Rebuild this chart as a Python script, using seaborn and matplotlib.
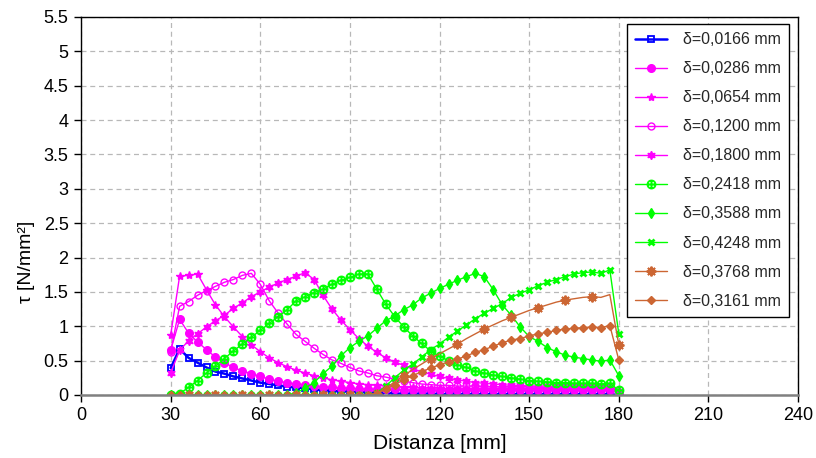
import matplotlib
matplotlib.use("Agg")
import matplotlib.pyplot as plt
import seaborn as sns
from matplotlib.ticker import FuncFormatter

# Distanza [mm] (step 3 mm)
distanza = [30, 33, 36, 39, 42, 45, 48, 51, 54, 57, 60, 63, 66, 69, 72, 75, 78,
            81, 84, 87, 90, 93, 96, 99, 102, 105, 108, 111, 114, 117, 120, 123,
            126, 129, 132, 135, 138, 141, 144, 147, 150, 153, 156, 159, 162, 165,
            168, 171, 174, 177, 180]

# tau [N/mm2] per slip value
tau_0166 = [0.39, 0.67, 0.54, 0.47, 0.40, 0.34, 0.31, 0.27, 0.24, 0.21, 0.18, 0.16,
            0.14, 0.12, 0.11, 0.10, 0.08, 0.07, 0.06, 0.05, 0.05, 0.04, 0.04, 0.03,
            0.03, 0.02, 0.02, 0.02, 0.02, 0.02, 0.01, 0.01, 0.01, 0.01, 0.01, 0.01,
            0.01, 0.01, 0.01, 0.01, 0.01, 0.01, 0.01, 0.01, 0.01, 0.01, 0.01, 0.01,
            0.01, 0.01, 0.00]
tau_0286 = [0.65, 1.10, 0.90, 0.77, 0.66, 0.55, 0.47, 0.40, 0.35, 0.31, 0.27, 0.23,
            0.20, 0.18, 0.16, 0.15, 0.13, 0.12, 0.11, 0.10, 0.10, 0.09, 0.09, 0.08,
            0.08, 0.08, 0.07, 0.07, 0.07, 0.07, 0.07, 0.07, 0.07, 0.07, 0.07, 0.07,
            0.07, 0.07, 0.07, 0.07, 0.07, 0.07, 0.07, 0.07, 0.07, 0.07, 0.07, 0.07,
            0.07, 0.07, 0.03]
tau_0654 = [0.87, 1.73, 1.74, 1.76, 1.53, 1.31, 1.14, 0.99, 0.85, 0.73, 0.63, 0.54,
            0.47, 0.41, 0.36, 0.32, 0.28, 0.25, 0.22, 0.20, 0.18, 0.16, 0.15, 0.14,
            0.13, 0.12, 0.11, 0.11, 0.10, 0.10, 0.10, 0.09, 0.09, 0.09, 0.09, 0.09,
            0.09, 0.09, 0.08, 0.08, 0.08, 0.08, 0.08, 0.08, 0.08, 0.08, 0.08, 0.08,
            0.08, 0.08, 0.04]
tau_1200 = [0.63, 1.29, 1.36, 1.45, 1.52, 1.58, 1.64, 1.68, 1.74, 1.77, 1.61, 1.37,
            1.19, 1.03, 0.88, 0.78, 0.68, 0.59, 0.51, 0.46, 0.40, 0.35, 0.32, 0.28,
            0.26, 0.23, 0.20, 0.18, 0.16, 0.15, 0.14, 0.14, 0.13, 0.13, 0.13, 0.12,
            0.12, 0.12, 0.12, 0.12, 0.12, 0.11, 0.11, 0.11, 0.11, 0.11, 0.11, 0.11,
            0.11, 0.11, 0.05]
tau_1800 = [0.32, 0.65, 0.79, 0.89, 0.99, 1.08, 1.16, 1.26, 1.34, 1.43, 1.50, 1.57,
            1.63, 1.68, 1.73, 1.78, 1.68, 1.45, 1.25, 1.09, 0.95, 0.82, 0.71, 0.62,
            0.54, 0.48, 0.43, 0.38, 0.34, 0.30, 0.27, 0.24, 0.22, 0.20, 0.18, 0.17,
            0.16, 0.15, 0.14, 0.14, 0.13, 0.13, 0.13, 0.12, 0.12, 0.12, 0.12, 0.12,
            0.12, 0.12, 0.06]
tau_2418 = [0.00, 0.02, 0.11, 0.21, 0.32, 0.42, 0.53, 0.64, 0.74, 0.84, 0.94, 1.04,
            1.14, 1.24, 1.37, 1.43, 1.49, 1.54, 1.61, 1.67, 1.71, 1.76, 1.76, 1.54,
            1.32, 1.14, 0.99, 0.86, 0.75, 0.64, 0.56, 0.50, 0.44, 0.40, 0.35, 0.32,
            0.29, 0.27, 0.25, 0.23, 0.21, 0.20, 0.19, 0.18, 0.18, 0.17, 0.17, 0.17,
            0.16, 0.17, 0.07]
tau_3588 = [0.00, 0.00, 0.00, 0.00, 0.00, 0.00, 0.00, 0.00, 0.00, 0.00, 0.00, 0.00,
            0.00, 0.00, 0.03, 0.10, 0.18, 0.31, 0.42, 0.57, 0.69, 0.78, 0.86, 0.97,
            1.08, 1.15, 1.24, 1.31, 1.41, 1.48, 1.55, 1.61, 1.67, 1.72, 1.77, 1.72,
            1.53, 1.31, 1.16, 0.99, 0.85, 0.78, 0.69, 0.63, 0.58, 0.55, 0.53, 0.51,
            0.49, 0.51, 0.28]
tau_4248 = [0.00, 0.00, 0.00, 0.00, 0.00, 0.00, 0.00, 0.00, 0.00, 0.00, 0.00, 0.00,
            0.00, 0.00, 0.00, 0.00, 0.00, 0.00, 0.00, 0.00, 0.00, 0.00, 0.00, 0.03,
            0.13, 0.25, 0.36, 0.45, 0.55, 0.66, 0.74, 0.84, 0.93, 1.02, 1.11, 1.19,
            1.26, 1.33, 1.42, 1.48, 1.53, 1.59, 1.64, 1.68, 1.72, 1.76, 1.78, 1.79,
            1.77, 1.82, 0.89]
tau_3768 = [0.00, 0.00, 0.00, 0.00, 0.00, 0.00, 0.00, 0.00, 0.00, 0.00, 0.00, 0.00,
            0.00, 0.00, 0.00, 0.00, 0.00, 0.00, 0.00, 0.00, 0.00, 0.00, 0.00, 0.02,
            0.10, 0.19, 0.28, 0.37, 0.45, 0.53, 0.60, 0.67, 0.74, 0.82, 0.89, 0.96,
            1.02, 1.08, 1.13, 1.18, 1.23, 1.27, 1.31, 1.35, 1.38, 1.40, 1.42, 1.43,
            1.42, 1.46, 0.73]
tau_3161 = [0.00, 0.00, 0.00, 0.00, 0.00, 0.00, 0.00, 0.00, 0.00, 0.00, 0.00, 0.00,
            0.00, 0.00, 0.00, 0.00, 0.00, 0.00, 0.00, 0.00, 0.00, 0.00, 0.00, 0.02,
            0.08, 0.15, 0.22, 0.28, 0.34, 0.39, 0.44, 0.48, 0.52, 0.57, 0.62, 0.66,
            0.71, 0.76, 0.80, 0.82, 0.86, 0.89, 0.91, 0.94, 0.96, 0.97, 0.98, 0.99,
            0.98, 1.01, 0.51]

labels = ["δ=0,0166 mm", "δ=0,0286 mm", "δ=0,0654 mm", "δ=0,1200 mm", "δ=0,1800 mm",
          "δ=0,2418 mm", "δ=0,3588 mm", "δ=0,4248 mm", "δ=0,3768 mm", "δ=0,3161 mm"]
series = [tau_0166, tau_0286, tau_0654, tau_1200, tau_1800,
          tau_2418, tau_3588, tau_4248, tau_3768, tau_3161]

BLUE, MAG, GREEN, ORANGE = "#0000FF", "#FF00FF", "#00FF00", "#CC6633"
# colour, marker, size, face, linewidth, edge width, markevery
styles = [
    (BLUE, "s", 5, "none", 1.8, 1.3, None),
    (MAG, "o", 5.5, MAG, 1.0, 1.0, None),
    (MAG, "*", 6, MAG, 1.0, 1.0, None),
    (MAG, "o", 5, "none", 1.0, 1.0, None),
    (MAG, (6, 1, 0), 6, MAG, 1.0, 1.0, None),
    (GREEN, r"$\oplus$", 6.5, GREEN, 1.0, 0.6, None),
    (GREEN, "d", 5, GREEN, 1.0, 1.0, None),
    (GREEN, "x", 5, GREEN, 1.0, 2.0, None),
    (ORANGE, (8, 2, 0), 7, ORANGE, 1.0, 1.4, slice(2, None, 3)),
    (ORANGE, "D", 4.2, ORANGE, 1.0, 1.0, None),
]

sns.set_theme(style="white")
plt.rcParams['font.family'] = ['Liberation Sans', 'DejaVu Sans']

fig, ax = plt.subplots(figsize=(8.16, 4.58), dpi=100)
fig.subplots_adjust(left=0.0993, right=0.978, top=0.963, bottom=0.1376)

for vals, lab, (col, mk, ms, fc, lw, mew, me) in zip(series, labels, styles):
    sns.lineplot(x=distanza, y=vals, ax=ax, color=col, marker=mk, markersize=ms,
                 markerfacecolor=fc, markeredgecolor=col, markeredgewidth=mew,
                 linewidth=lw, markevery=me, label=lab, estimator=None, sort=False)

ax.set_xlim(0, 240)
ax.set_ylim(0, 5.5)
ax.set_xticks(range(0, 241, 30))
ax.set_yticks([i * 0.5 for i in range(12)])
ax.yaxis.set_major_formatter(FuncFormatter(lambda v, p: f"{v:g}"))
ax.grid(True, linestyle=(0, (4, 3)), color="#b8b8b8", linewidth=0.9)
ax.tick_params(axis="both", direction="out", length=5, width=1, color="black",
               labelsize=13, labelcolor="black", pad=4)
ax.tick_params(bottom=True, left=True)
for side in ["left", "top", "right"]:
    ax.spines[side].set_color("black")
    ax.spines[side].set_linewidth(1.0)
ax.spines["bottom"].set_color("#808080")
ax.spines["bottom"].set_linewidth(1.8)

ax.set_xlabel("Distanza [mm]", fontsize=15, color="black", labelpad=7)
ax.set_ylabel("τ [N/mm²]", fontsize=14, color="black")
ax.yaxis.set_label_coords(-0.064, 0.352)

leg = ax.legend(loc="upper right", bbox_to_anchor=(0.987, 0.981), borderaxespad=0,
                fontsize=11.5, frameon=True, fancybox=False, framealpha=1,
                edgecolor="black", handlelength=2.0, handletextpad=1.0,
                labelspacing=0.88, borderpad=0.5)
leg.get_frame().set_linewidth(1.0)

fig.savefig("out.png", dpi=100)
